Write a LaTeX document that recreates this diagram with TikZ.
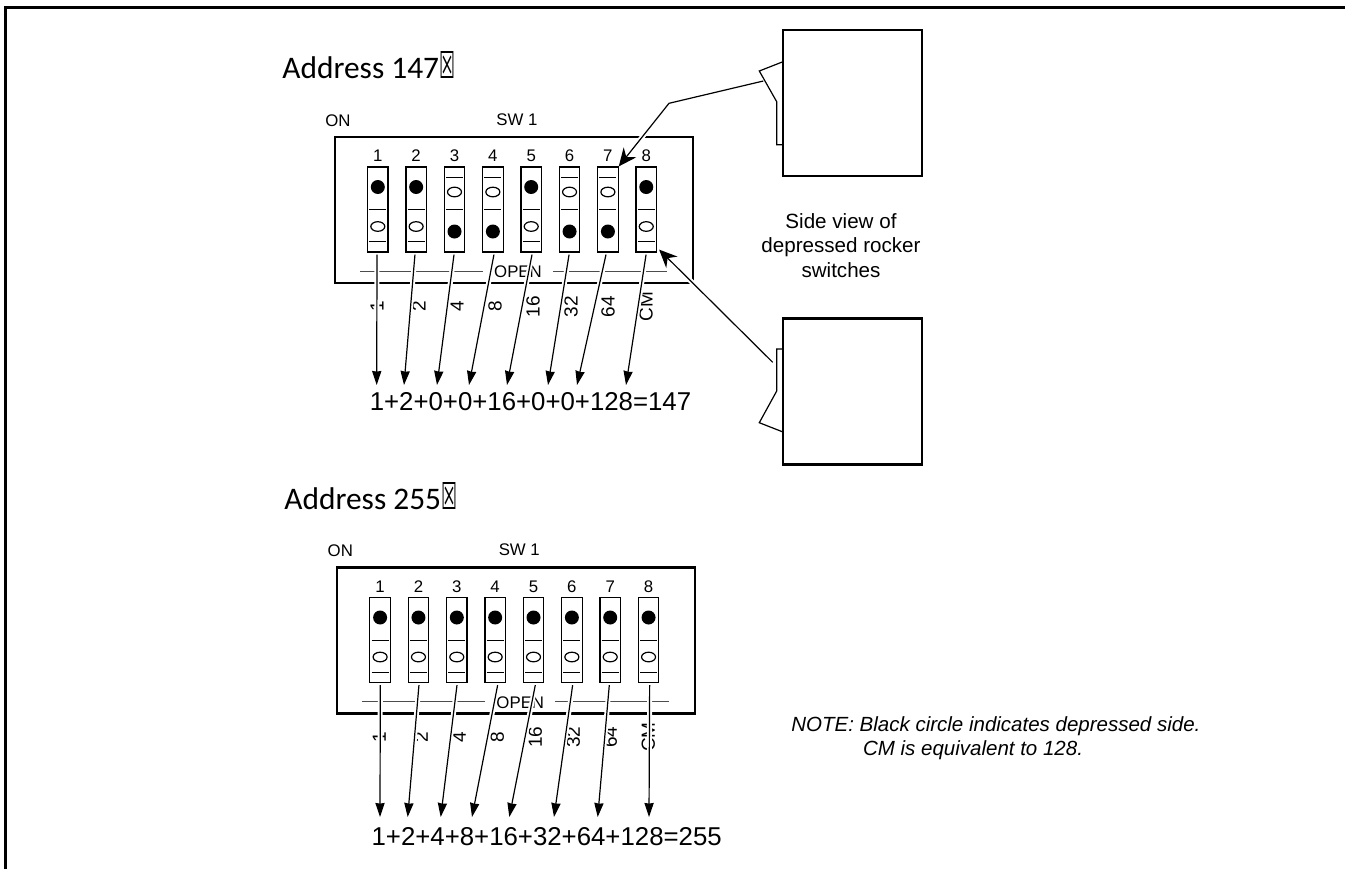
\documentclass[tikz,border=0pt]{standalone}
\usepackage{fontspec}
\setmainfont{Liberation Sans}
\newfontfamily\addrfont{Carlito}
\newfontfamily\symfont{DejaVu Sans}
\usetikzlibrary{arrows.meta}

\tikzset{
  dipbox/.style={draw, line width=1.1pt, minimum width=179pt, minimum height=73pt, inner sep=0pt},
  rocker/.style={draw, line width=0.6pt, minimum width=10.25pt, minimum height=42.5pt, inner sep=0pt},
  viewbox/.style={draw, line width=1.1pt, minimum width=69.2pt, minimum height=73pt, inner sep=0pt},
  swlabel/.style={inner sep=0pt, font=\fontsize{8.4}{10}\selectfont},
  weight/.style={inner sep=0pt, rotate=90, font=\fontsize{9.5}{11}\selectfont},
  sumtext/.style={inner sep=0pt, font=\fontsize{12.9}{15}\selectfont},
  addrtext/.style={inner sep=0pt, anchor=west, font=\addrfont\fontsize{15.7}{19}\selectfont},
  notetext/.style={inner sep=0pt, anchor=west, font=\itshape\fontsize{10.25}{12}\selectfont},
  leader/.style={line width=0.6pt, preaction={draw=white, line width=2.5pt, -},
    -{Stealth[length=7pt, width=4.6pt, inset=0.3pt]}},
  sideleader/.style={line width=0.6pt, preaction={draw=white, line width=2.5pt, -, shorten >=8pt},
    -{Stealth[length=9pt, width=8pt, inset=3pt]}}
}

% one switch block: name, then switch/state (1 = upper side black)
\newcommand{\dipunit}[2]{%
  \node[dipbox] (#1box) at (514,210) {};
  \node[swlabel] (#1on) at (338,120.5) {ON};
  \node[swlabel] (#1sw) at (517,119.5) {SW 1};
  \node[swlabel] (#1open) at (518,272) {OPEN};
  \draw[line width=0.5pt, black!70] (360,271) -- (483,271) (553,271) -- (667,271);
  \foreach \i/\st in {#2} {
    \node[rocker] (#1\i) at ({339.45+38.35*\i},209.5) {};
    \node[swlabel] (#1n\i) at ({339.45+38.35*\i},156) {\i};
    \begin{scope}[shift={(#1\i.center)}]
      \draw[line width=0.5pt] (-8.5,0) -- (8.5,0);
      \ifnum\st=1
        \draw[line width=0.5pt] (-8.5,32) -- (8.5,32);
        \fill (0,-22.5) circle [radius=7];
        \draw[line width=0.6pt] (0,17) ellipse [x radius=7, y radius=4.8];
      \else
        \draw[line width=0.5pt] (-8.5,-32) -- (8.5,-32);
        \draw[line width=0.6pt] (0,-17.5) ellipse [x radius=7, y radius=4.8];
        \fill (0,22) circle [radius=7];
      \fi
    \end{scope}
  }
  \foreach \x/\w in {377/1,419/2,457/4,495/8,533/16,571/32,608/64,646/CM}
    \node[weight] (#1w\w) at (\x,306.5) {\w};
}

\begin{document}
\begin{tikzpicture}[x=0.5pt, y=-0.5pt]
\useasboundingbox (0,0) rectangle (1345,869);
% Frame
\draw[line width=1.3pt] (5.3,869) -- (5.3,7.2) -- (1345,7.2);
% Titles
\node[addrtext] (title147) at (282,65) {Address 147\resizebox{8pt}{13.5pt}{\symfont ☒}};
\node[addrtext] (title255) at (284,496) {Address 255\resizebox{8pt}{13.5pt}{\symfont ☒}};
% Switch blocks
\dipunit{a}{1/1,2/1,3/0,4/0,5/1,6/0,7/0,8/1}
\begin{scope}[shift={(2.3,430.5)}]
  \dipunit{b}{1/1,2/1,3/1,4/1,5/1,6/1,7/1,8/1}
\end{scope}
% Sums
\node[sumtext] (sum147) at (530.5,402) {1+2+0+0+16+0+0+128=147};
\node[sumtext] (sum255) at (546.7,837) {1+2+4+8+16+32+64+128=255};
% Leaders, upper block
\foreach \i/\dx/\ex in {1/-0.8/376.7,2/-1.2/404,3/-0.5/437,4/1.1/469,5/0.8/507,6/-0.5/548,7/-1.9/577,8/-0.2/626} {
  \coordinate (sa\i) at (\ex,385);
  \draw[leader] ([shift={(\dx,2)}]a\i.south) -- (sa\i);
}
% Leaders, lower block
\foreach \i/\dx/\ex in {1/0.2/380,2/0.5/407.7,3/0.2/440.7,4/2.5/472,5/1.8/509.3,6/0.8/554,7/-0.9/597.7,8/1.1/649} {
  \coordinate (sb\i) at (\ex,817);
  \draw[leader] ([shift={(\dx,2)}]b\i.south) -- (sb\i);
}
% Side views
\node[viewbox] (viewup) at (852.5,103) {};
\node[viewbox] (viewdown) at (852.5,391.5) {};
\draw[line width=0.6pt] (783,61.7) -- (759.3,71) -- (776.7,101.7) -- (776.7,144.7) -- (783,144.7);
\draw[line width=0.6pt] (783,349) -- (776.7,349) -- (776.7,391) -- (759.3,422.7) -- (783,432);
\node[inner sep=0pt, align=center, font=\fontsize{10.3}{12.25}\selectfont] (sidetext) at (841,245.5)
  {Side view of\\depressed rocker\\switches};
\coordinate (tabup) at (763.3,81);
\coordinate (bendup) at (669,103.3);
\coordinate (tabdown) at (772.7,362.3);
\draw[sideleader] (tabup) -- (bendup) -- (a7.north east);
\draw[sideleader] (tabdown) -- ([shift={(2,-3)}]a8.south east);
% Note
\node[notetext] (note1) at (791,726) {NOTE: Black circle indicates depressed side.};
\node[notetext] (note2) at (862.7,750) {CM is equivalent to 128.};
\end{tikzpicture}
\end{document}
